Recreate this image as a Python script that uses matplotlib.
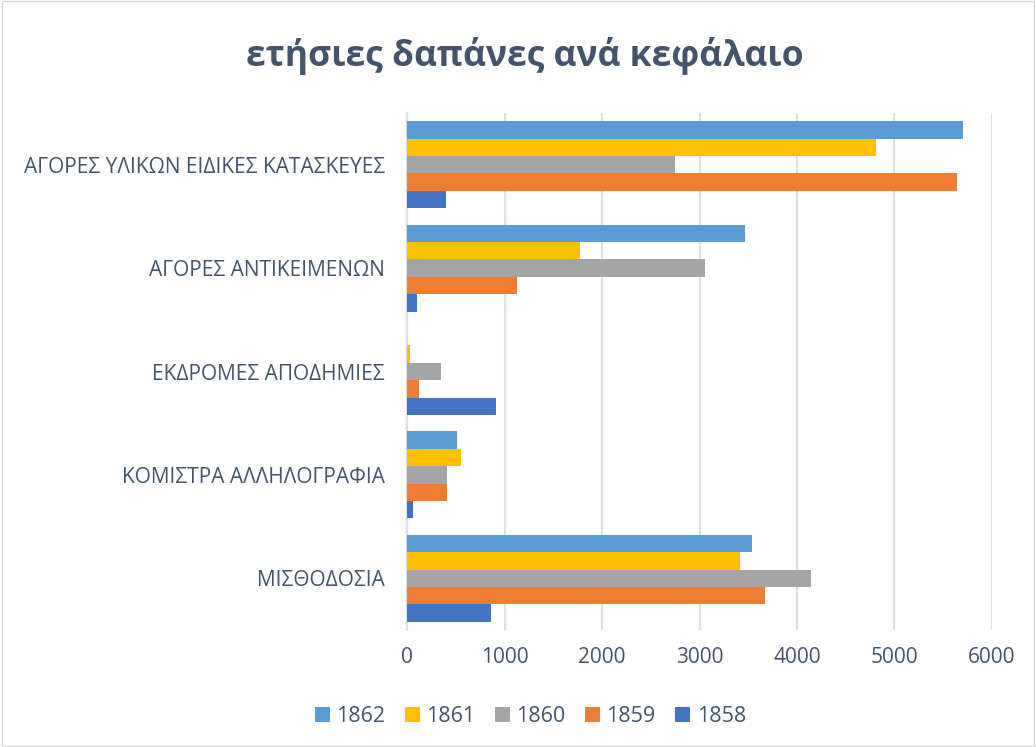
import matplotlib.pyplot as plt
import numpy as np

# data
categories = ["ΜΙΣΘΟΔΟΣΙΑ", "ΚΟΜΙΣΤΡΑ ΑΛΛΗΛΟΓΡΑΦΙΑ", "ΕΚΔΡΟΜΕΣ ΑΠΟΔΗΜΙΕΣ",
              "ΑΓΟΡΕΣ ΑΝΤΙΚΕΙΜΕΝΩΝ", "ΑΓΟΡΕΣ ΥΛΙΚΩΝ ΕΙΔΙΚΕΣ ΚΑΤΑΣΚΕΥΕΣ"]
years = ["1858", "1859", "1860", "1861", "1862"]
v1858 = [860, 60, 915, 100, 395]
v1859 = [3675, 410, 122, 1127, 5640]
v1860 = [4145, 410, 350, 3057, 2745]
v1861 = [3417, 555, 28, 1774, 4815]
v1862 = [3540, 514, 0, 3468, 5705]
series = [v1858, v1859, v1860, v1861, v1862]
colors = ["#4472C4", "#ED7D31", "#A5A5A5", "#FFC000", "#5B9BD5"]

TEXT = "#44546A"

fig = plt.figure(figsize=(10.36, 7.47), dpi=100)
plt.rcParams['font.family'] = ['Open Sans', 'DejaVu Sans']
ax = fig.add_axes([0.3929, 0.1566, 0.5646, 0.6921])

# frame round the whole chart
fig.patches.append(plt.Rectangle((0.002, 0.002), 0.996, 0.996, transform=fig.transFigure,
                                 fill=False, edgecolor="#D9D9D9", linewidth=1))

y = np.arange(len(categories))
bar_h = 0.168
for i, (vals, col, yr) in enumerate(zip(series, colors, years)):
    offset = (i - 2) * bar_h
    ax.barh(y + offset, vals, height=bar_h, color=col, label=yr, zorder=3)

ax.set_xlim(0, 6000)
ax.set_ylim(-0.5, 4.5)
ax.set_xticks(range(0, 6001, 1000))
ax.set_yticks(y)
ax.set_yticklabels(categories)
ax.grid(axis="x", color="#DCE0E6", linewidth=1.5, zorder=0)
for s in ["top", "right", "bottom"]:
    ax.spines[s].set_visible(False)
ax.spines["left"].set_color("#DCE0E6")
ax.spines["left"].set_linewidth(1.5)
ax.tick_params(axis="both", length=0, labelcolor=TEXT)
ax.tick_params(axis="x", pad=12, labelsize=15)
ax.tick_params(axis="y", pad=16, labelsize=15)

fig.text(0.507, 0.925, "ετήσιες δαπάνες ανά κεφάλαιο", ha="center", va="center",
         fontsize=25.5, fontweight="bold", color=TEXT)

handles, labels = ax.get_legend_handles_labels()
fig.legend(handles[::-1], labels[::-1], loc="center", bbox_to_anchor=(0.512, 0.041),
           ncol=5, frameon=False, fontsize=15.5, labelcolor=TEXT,
           handlelength=0.7, handleheight=0.7, handletextpad=0.3, columnspacing=0.9)

fig.savefig("out.png", dpi=100)
